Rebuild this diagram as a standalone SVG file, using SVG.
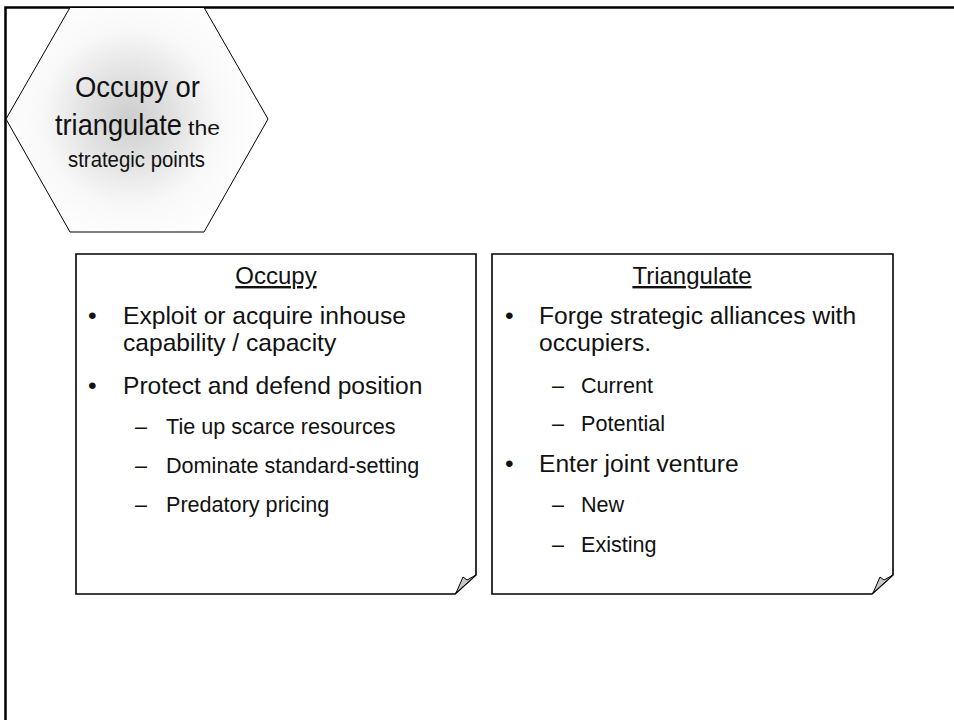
<svg xmlns="http://www.w3.org/2000/svg" width="954" height="720" viewBox="0 0 954 720">
  <defs>
    <radialGradient id="hexShade" cx="130" cy="118" r="135" gradientUnits="userSpaceOnUse">
      <stop offset="0" stop-color="#cdcdcd"/>
      <stop offset="0.3" stop-color="#e0e0e0"/>
      <stop offset="0.65" stop-color="#f8f8f8"/>
      <stop offset="1" stop-color="#ffffff"/>
    </radialGradient>
  </defs>
  <style>
    text { font-family: "Liberation Sans", Arial, sans-serif; fill: #111; }
    .frame { fill: none; stroke: #000; stroke-width: 2.5; }
    .hex { fill: url(#hexShade); stroke: #000; stroke-width: 1; }
    .box { fill: #fff; stroke: #000; stroke-width: 1.6; stroke-linejoin: miter; }
    .curl { fill: #c8c8c8; stroke: #000; stroke-width: 1; stroke-linejoin: round; }
    .title { font-size: 24px; text-anchor: middle; text-decoration: underline; }
    .l1 { font-size: 24.6px; }
    .l2 { font-size: 21.6px; }
  </style>

  <!-- slide frame -->
  <path class="frame" d="M5.5,720 V7.5 H954"/>

  <!-- heading hexagon -->
  <g id="heading">
    <polygon class="hex" points="70,7.5 204,7.5 268,119 204,232 70,232 6,119"/>
    <text x="75" y="97" font-size="29" textLength="125" lengthAdjust="spacingAndGlyphs">Occupy or</text>
    <text x="55" y="135" font-size="29" textLength="127" lengthAdjust="spacingAndGlyphs">triangulate</text>
    <text x="188" y="135" font-size="21" textLength="32" lengthAdjust="spacingAndGlyphs">the</text>
    <text x="68" y="167" font-size="22" textLength="137" lengthAdjust="spacingAndGlyphs">strategic points</text>
  </g>

  <!-- left note: Occupy -->
  <g id="occupy">
    <path class="box" d="M76,254 H476 V575 L455,594 H76 Z"/>
    <polygon class="curl" points="476,575 467,580 463,577 456,593"/>
    <text class="title" x="276" y="284">Occupy</text>
    <text class="l1" x="88" y="324">•</text>
    <text class="l1" x="123" y="324">Exploit or acquire inhouse</text>
    <text class="l1" x="123" y="351">capability / capacity</text>
    <text class="l1" x="88" y="394">•</text>
    <text class="l1" x="123" y="394">Protect and defend position</text>
    <text class="l2" x="135" y="434">–</text>
    <text class="l2" x="166" y="434">Tie up scarce resources</text>
    <text class="l2" x="135" y="473">–</text>
    <text class="l2" x="166" y="473">Dominate standard-setting</text>
    <text class="l2" x="135" y="512">–</text>
    <text class="l2" x="166" y="512">Predatory pricing</text>
  </g>

  <!-- right note: Triangulate -->
  <g id="triangulate">
    <path class="box" d="M492,254 H893 V575 L872,594 H492 Z"/>
    <polygon class="curl" points="893,575 884,580 880,577 873,593"/>
    <text class="title" x="692" y="284">Triangulate</text>
    <text class="l1" x="505" y="324">•</text>
    <text class="l1" x="539" y="324">Forge strategic alliances with</text>
    <text class="l1" x="539" y="351">occupiers.</text>
    <text class="l2" x="552" y="393">–</text>
    <text class="l2" x="581" y="393">Current</text>
    <text class="l2" x="552" y="431">–</text>
    <text class="l2" x="581" y="431">Potential</text>
    <text class="l1" x="505" y="472">•</text>
    <text class="l1" x="539" y="472">Enter joint venture</text>
    <text class="l2" x="552" y="512">–</text>
    <text class="l2" x="581" y="512">New</text>
    <text class="l2" x="552" y="552">–</text>
    <text class="l2" x="581" y="552">Existing</text>
  </g>
</svg>
